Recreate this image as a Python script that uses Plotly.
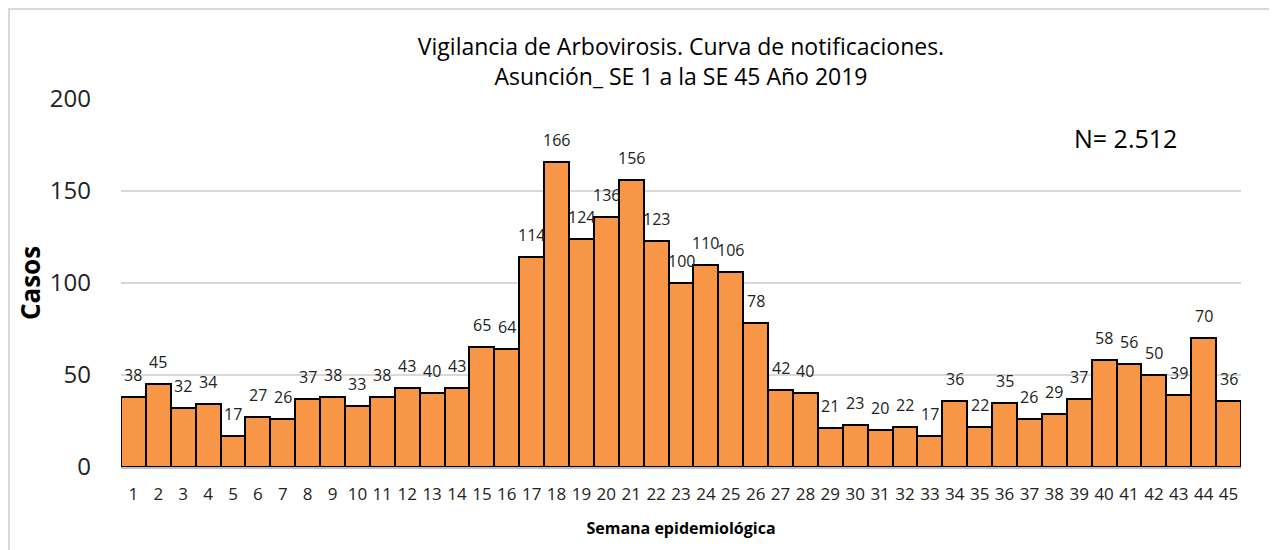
import plotly.graph_objects as go

weeks = list(range(1, 46))
cases = [38, 45, 32, 34, 17, 27, 26, 37, 38, 33, 38, 43, 40, 43, 65, 64, 114, 166,
         124, 136, 156, 123, 100, 110, 106, 78, 42, 40, 21, 23, 20, 22, 17, 36, 22,
         35, 26, 29, 37, 58, 56, 50, 39, 70, 36]
y_ticks = [0, 50, 100, 150, 200]

FONT = "Open Sans"

# page body has an 8px margin; figure origin is at screen (8, 8)
OFF = 8
W, H = 1269, 542
L, T = 121 - OFF, 99 - OFF
R = W - (1241 - OFF)
B = H - (467 - OFF)
pw, ph = W - L - R, H - T - B

fig = go.Figure(go.Bar(
    x=weeks, y=cases, width=1,
    marker=dict(color="#F79646", line=dict(color="black", width=2)),
    hoverinfo="x+y",
))

annotations = [
    dict(x=w, y=v, xref="x", yref="y", text=str(v), showarrow=False,
         yanchor="middle", xanchor="center", yshift=22,
         font=dict(family=FONT, size=16, color="#222"))
    for w, v in zip(weeks, cases)
]
annotations.append(dict(
    text="N= 2.512", x=(1125 - OFF - L) / pw, y=(H - B - (138 - OFF)) / ph,
    xref="paper", yref="paper", showarrow=False, xanchor="center", yanchor="middle",
    font=dict(family=FONT, size=25, color="black"),
))

fig.update_layout(
    width=W, height=H,
    margin=dict(l=L, r=R, t=T, b=B, pad=0, autoexpand=False),
    paper_bgcolor="white", plot_bgcolor="white",
    bargap=0,
    showlegend=False,
    title=dict(
        text="Vigilancia de Arbovirosis. Curva de notificaciones.<br>Asunción_ SE 1 a la SE 45 Año 2019",
        x=(L + pw / 2) / W, xanchor="center", y=1 - (55 - OFF) / H, yanchor="middle",
        font=dict(family=FONT, size=23, color="black"),
    ),
    xaxis=dict(
        range=[0.5, 45.5], tickvals=weeks, ticktext=[str(w) for w in weeks],
        showgrid=False, showline=True, linecolor="#BFBFBF", linewidth=1.5, zeroline=False,
        ticks="", tickfont=dict(family=FONT, size=17, color="#222"), ticklabelstandoff=11,
        automargin=False,
        title=dict(text="<b>Semana epidemiológica</b>", font=dict(family=FONT, size=16, color="black"), standoff=19),
    ),
    yaxis=dict(
        range=[0, 200], tickvals=y_ticks, showgrid=True, gridcolor="#D9D9D9", gridwidth=2,
        zeroline=False, showline=False, ticks="", automargin=False,
        tickfont=dict(family=FONT, size=24, color="#222"), ticklabelstandoff=29,
        title=dict(text="<b>Casos</b>", font=dict(family=FONT, size=26, color="black"), standoff=1),
    ),
    annotations=annotations,
    shapes=[dict(
        type="rect", xref="paper", yref="paper",
        x0=(1 - L) / pw, x1=(1300 - L) / pw, y0=(H - B - 600) / ph, y1=(H - B - 1) / ph,
        line=dict(color="#D9D9D9", width=2), fillcolor="rgba(0,0,0,0)", layer="below",
    )],
)

fig.write_html("out.html")
